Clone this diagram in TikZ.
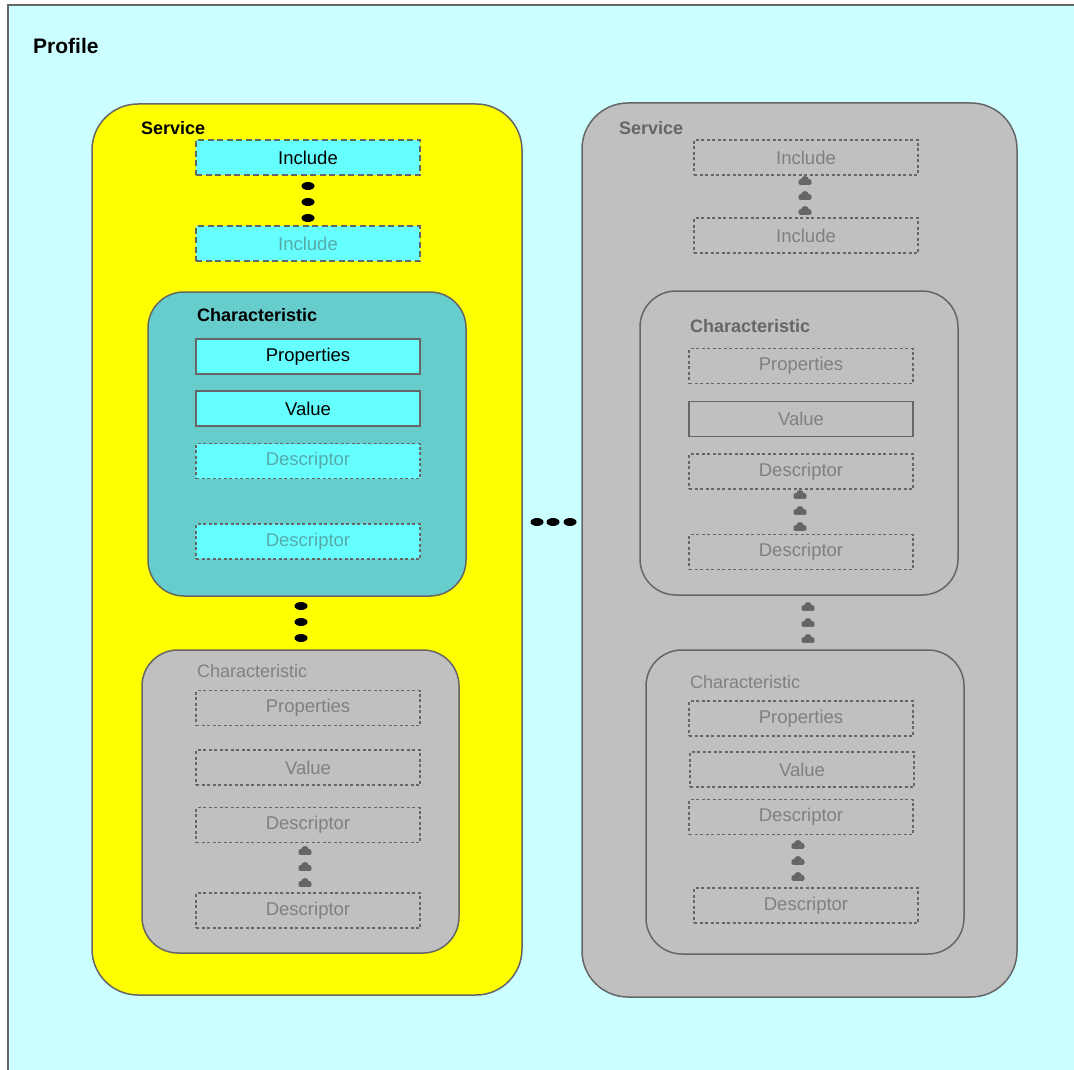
\documentclass[tikz,border=0pt]{standalone}
\usepackage{fontspec}
\setmainfont{Liberation Sans}
\definecolor{profilebg}{HTML}{CCFFFF}
\definecolor{svcyellow}{HTML}{FFFF00}
\definecolor{svcgray}{HTML}{C0C0C0}
\definecolor{chteal}{HTML}{66CCCC}
\definecolor{boxcyan}{HTML}{66FFFF}
\definecolor{edgegray}{HTML}{666666}
\definecolor{faintgray}{HTML}{808080}
\definecolor{faintteal}{HTML}{55AAAA}
\newcommand\bxfont{\fontsize{18.5}{21}\selectfont}
\newcommand\lblfont{\fontsize{18}{21}\selectfont}
\begin{document}
\begin{tikzpicture}[x=1pt,y=-1pt,
  size/.style 2 args={minimum width=#1, minimum height=#2},
  service/.style={rectangle, draw=edgegray, line width=1.5pt, rounded corners=46pt, inner sep=0},
  charbox/.style={rectangle, draw=edgegray, line width=1.5pt, rounded corners=36pt, inner sep=0, size={318pt}{304pt}},
  itembox/.style={rectangle, draw=edgegray, line width=1.6pt, inner sep=0, size={224pt}{35pt}, font=\bxfont},
  solidline/.style={line width=1.9pt},
  dashline/.style={dash pattern=on 6pt off 3.5pt},
  dotline/.style={dash pattern=on 3pt off 2.5pt},
  title/.style={anchor=west, inner sep=0, font=\lblfont\bfseries},
  plainlbl/.style={anchor=west, inner sep=0, font=\lblfont},
  blackdot/.pic={\fill[black] (0,0) ellipse [x radius=6.5pt, y radius=4pt];},
  puff/.pic={\fill[edgegray] (-3.6,0.8) circle (3pt) (0,-1.2) circle (3.8pt) (3.6,0.8) circle (3pt);
             \fill[edgegray, rounded corners=1.5pt] (-6.6,0.6) rectangle (6.6,3.8);}
]
\useasboundingbox (0,0) rectangle (1074,1070);
\fill[white] (0,0) rectangle (1074,1070);
% profile frame
\fill[profilebg] (8,5) rectangle (1074,1070);
\draw[edgegray, line width=1.5pt] (8,1070) -- (8,5) -- (1074,5);
\node[anchor=west, inner sep=0, font=\fontsize{21}{24}\selectfont\bfseries] (profile) at (33,46) {Profile};

% ---------- active service ----------
\node[service, fill=svcyellow, size={430pt}{891pt}] (svcA) at (307,549.5) {};
\node[title] (svcAlbl) at (141,128) {Service};
\node[itembox, fill=boxcyan, dashline] (incA1) at (308,157.5) {Include};
\node[itembox, fill=boxcyan, dashline, text=faintteal] (incA2) at (308,243.5) {Include};
\foreach \y in {186,202,218} \pic at (308,\y) {blackdot};

\node[charbox, fill=chteal] (chA1) at (307,444) {};
\node[title] (chA1lbl) at (197,315) {Characteristic};
\node[itembox, fill=boxcyan, solidline] (propA1) at (308,356.5) {Properties};
\node[itembox, fill=boxcyan, solidline] (valA1) at (308,408.5) {Value};
\node[itembox, fill=boxcyan, dotline, text=faintteal] (descA1a) at (308,461) {Descriptor};
\node[itembox, fill=boxcyan, dotline, text=faintteal] (descA1b) at (308,541.5) {Descriptor};
\foreach \y in {606,622,638} \pic at (301,\y) {blackdot};

\node[charbox, fill=svcgray, size={317pt}{303pt}] (chA2) at (300.5,801.5) {};
\node[plainlbl, text=faintgray] (chA2lbl) at (197,671) {Characteristic};
\node[itembox, dotline, text=faintgray] (propA2) at (308,708) {Properties};
\node[itembox, dotline, text=faintgray] (valA2) at (308,767.5) {Value};
\node[itembox, dotline, text=faintgray] (descA2a) at (308,825) {Descriptor};
\node[itembox, dotline, text=faintgray] (descA2b) at (308,910.5) {Descriptor};
\foreach \y in {851,867,883} \pic at (305,\y) {puff};

% dots between the services
\foreach \x in {537,553,570} \pic at (\x,522) {blackdot};

% ---------- inactive service ----------
\node[service, fill=svcgray, size={435pt}{894pt}] (svcB) at (799.5,550) {};
\node[title, text=edgegray] (svcBlbl) at (619,128) {Service};
\node[itembox, dotline, text=faintgray] (incB1) at (806,157.5) {Include};
\node[itembox, dotline, text=faintgray] (incB2) at (806,235.5) {Include};
\foreach \y in {181,196,211} \pic at (805,\y) {puff};

\node[charbox, fill=svcgray] (chB1) at (799,443) {};
\node[title, text=edgegray] (chB1lbl) at (690,326) {Characteristic};
\node[itembox, dotline, text=faintgray] (propB1) at (801,366) {Properties};
\node[itembox, solidline, text=faintgray] (valB1) at (801,419) {Value};
\node[itembox, dotline, text=faintgray] (descB1a) at (801,471.5) {Descriptor};
\node[itembox, dotline, text=faintgray] (descB1b) at (801,552) {Descriptor};
\foreach \y in {495,511,527} \pic at (800,\y) {puff};
\foreach \y in {607,623,639} \pic at (808,\y) {puff};

\node[charbox, fill=svcgray] (chB2) at (805,802) {};
\node[plainlbl, text=faintgray] (chB2lbl) at (690,682) {Characteristic};
\node[itembox, dotline, text=faintgray] (propB2) at (801,718.5) {Properties};
\node[itembox, dotline, text=faintgray] (valB2) at (802,769.5) {Value};
\node[itembox, dotline, text=faintgray] (descB2a) at (801,817) {Descriptor};
\node[itembox, dotline, text=faintgray] (descB2b) at (806,905.5) {Descriptor};
\foreach \y in {845,861,877} \pic at (798,\y) {puff};
\end{tikzpicture}
\end{document}
